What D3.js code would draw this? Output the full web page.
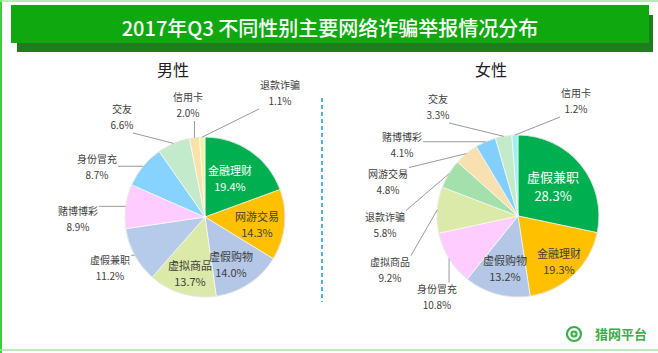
<!DOCTYPE html>
<html><head><meta charset="utf-8">
<script src="https://cdn.jsdelivr.net/npm/d3@7"></script>
<style>
html,body{margin:0;padding:0;background:#fff;}
svg{display:block;font-family:"Noto Sans CJK SC","Noto Sans",sans-serif;}
</style></head>
<body>
<svg id="c" width="658" height="353"></svg>
<script>
// ---- data ----
const title = "2017年Q3 不同性别主要网络诈骗举报情况分布";
const maleTitle = "男性";
const femaleTitle = "女性";
const maleCategories = ["金融理财","网游交易","虚假购物","虚拟商品","虚假兼职","赌博博彩","身份冒充","交友","信用卡","退款诈骗"];
const maleValues = [19.4,14.3,14.0,13.7,11.2,8.9,8.7,6.6,2.0,1.1];
const femaleCategories = ["虚假兼职","金融理财","虚假购物","身份冒充","虚拟商品","退款诈骗","网游交易","赌博博彩","交友","信用卡"];
const femaleValues = [28.3,19.3,13.2,10.8,9.2,5.8,4.8,4.1,3.3,1.2];
const logoText = "猎网平台";

// ---- styles ----
const maleColors = ["#00b050","#ffc000","#b4c7e7","#dbeaa9","#b6cbe9","#ffccff","#87d3ff","#c3ebcb","#fbe0a8","#eef5a5"];
const femaleColors = ["#00b050","#ffc000","#b4c7e7","#ffccff","#dbeaa9","#a3e0ab","#f9e0b0","#82cfff","#c3ebcb","#a0f0f0"];

// label layout: inside flag and text centre offset from pie centre (line 1)
const maleLayout = [
  {inside:true, dx:25, dy:-45, light:true},
  {inside:true, dx:52, dy:1},
  {inside:true, dx:26, dy:41},
  {inside:true, dx:-15, dy:50},
  {inside:false, dx:-95, dy:44},
  {inside:false, dx:-127, dy:-5},
  {inside:false, dx:-108, dy:-57},
  {inside:false, dx:-83, dy:-107},
  {inside:false, dx:-17, dy:-119},
  {inside:false, dx:75, dy:-131}
];
const femaleLayout = [
  {inside:true, dx:35, dy:-38, light:true, big:true},
  {inside:true, dx:41, dy:39},
  {inside:true, dx:-13, dy:46},
  {inside:false, dx:-81, dy:74},
  {inside:false, dx:-128, dy:47},
  {inside:false, dx:-133, dy:2},
  {inside:false, dx:-130, dy:-41},
  {inside:false, dx:-116, dy:-78},
  {inside:false, dx:-80, dy:-116},
  {inside:false, dx:58, dy:-122}
];

const svg = d3.select("#c");

// outer frame
svg.append("line").attr("x1",1).attr("y1",0).attr("x2",1).attr("y2",353).attr("stroke","#3ccc3c").attr("stroke-width",2);
svg.append("line").attr("x1",0).attr("y1",1).attr("x2",658).attr("y2",1).attr("stroke","#a6e2a6").attr("stroke-width",1.5);
svg.append("line").attr("x1",0).attr("y1",350).attr("x2",658).attr("y2",350).attr("stroke","#a6e2a6").attr("stroke-width",1.5);

// title banner
svg.append("rect").attr("x",17).attr("y",15).attr("width",636).attr("height",37).attr("fill","#1f7d1f");
svg.append("rect").attr("x",11).attr("y",5).attr("width",638).attr("height",38).attr("fill","#0fa80f");
svg.append("text").attr("x",330).attr("y",31).attr("text-anchor","middle").attr("fill","#fff")
  .attr("font-size",20).attr("font-weight",500).attr("dominant-baseline","middle").text(title);

// divider
svg.append("line").attr("x1",322).attr("x2",322).attr("y1",98).attr("y2",302)
  .attr("stroke","#4fb0e6").attr("stroke-width",2).attr("stroke-dasharray","4,3");

function drawPie(cx, cy, r, cats, vals, colors, layout, head, headX) {
  const g = svg.append("g").attr("transform",`translate(${cx},${cy})`);
  svg.append("text").attr("x",headX).attr("y",72).attr("text-anchor","middle").attr("dominant-baseline","middle")
    .attr("font-size",16).attr("fill","#222").attr("font-weight",400).text(head);
  const pie = d3.pie().sort(null).value(d=>d)(vals);
  const arc = d3.arc().innerRadius(0).outerRadius(r);
  g.selectAll("path.s").data(pie).join("path").attr("class","s")
    .attr("d",arc).attr("fill",(d,i)=>colors[i]).attr("stroke","#fff").attr("stroke-width",0.6);
  g.append("circle").attr("r",r).attr("fill","none").attr("stroke","#d8d8d8").attr("stroke-width",0.6);
  const edge = d3.arc().innerRadius(r).outerRadius(r);
  pie.forEach((d,i)=>{
    const L = layout[i];
    const big = !!L.big;
    const fs = L.inside ? (big?13:11) : 10;
    const gap = L.inside ? (big?19:16.5) : 16;
    const col = L.light ? "#fff" : "#404040";
    const t1 = cats[i], t2 = d3.format(".1f")(vals[i]) + "%";
    const tg = g.append("g");
    tg.append("text").attr("x",L.dx).attr("y",L.dy).attr("text-anchor","middle").attr("dominant-baseline","middle")
      .attr("font-size",fs).attr("fill",col).text(t1);
    tg.append("text").attr("x",L.dx).attr("y",L.dy+gap).attr("text-anchor","middle").attr("dominant-baseline","middle")
      .attr("font-size",fs).attr("fill",col).text(t2);
    if (!L.inside) {
      const c = edge.centroid(d);
      const w = t1.length*fs;
      const x0 = L.dx - w/2 - 1, x1 = L.dx + w/2 + 1;
      const y0 = L.dy - fs*0.75, y1 = L.dy + gap + fs*0.7;
      const px = Math.max(x0, Math.min(x1, c[0]));
      const py = Math.max(y0, Math.min(y1, c[1]));
      g.append("line").attr("x1",px).attr("y1",py).attr("x2",c[0]).attr("y2",c[1])
        .attr("stroke","#7f7f7f").attr("stroke-width",0.8);
    }
  });
}

drawPie(205, 217, 80, maleCategories, maleValues, maleColors, maleLayout, maleTitle, 173);
drawPie(518, 216, 81, femaleCategories, femaleValues, femaleColors, femaleLayout, femaleTitle, 491);

// logo
const lg = svg.append("g").attr("transform","translate(574,334)");
lg.append("circle").attr("r",7).attr("fill","none").attr("stroke","#3aae4a").attr("stroke-width",2.2);
lg.append("circle").attr("r",3.6).attr("fill","#3aae4a");
lg.append("path").attr("d","M-1.6,0H1.6M0,-1.6V1.6").attr("stroke","#fff").attr("stroke-width",1.1);
svg.append("text").attr("x",621).attr("y",335).attr("text-anchor","middle").attr("dominant-baseline","middle")
  .attr("font-size",13).attr("font-weight",700).attr("fill","#3aae4a").text(logoText);
</script>
</body></html>
